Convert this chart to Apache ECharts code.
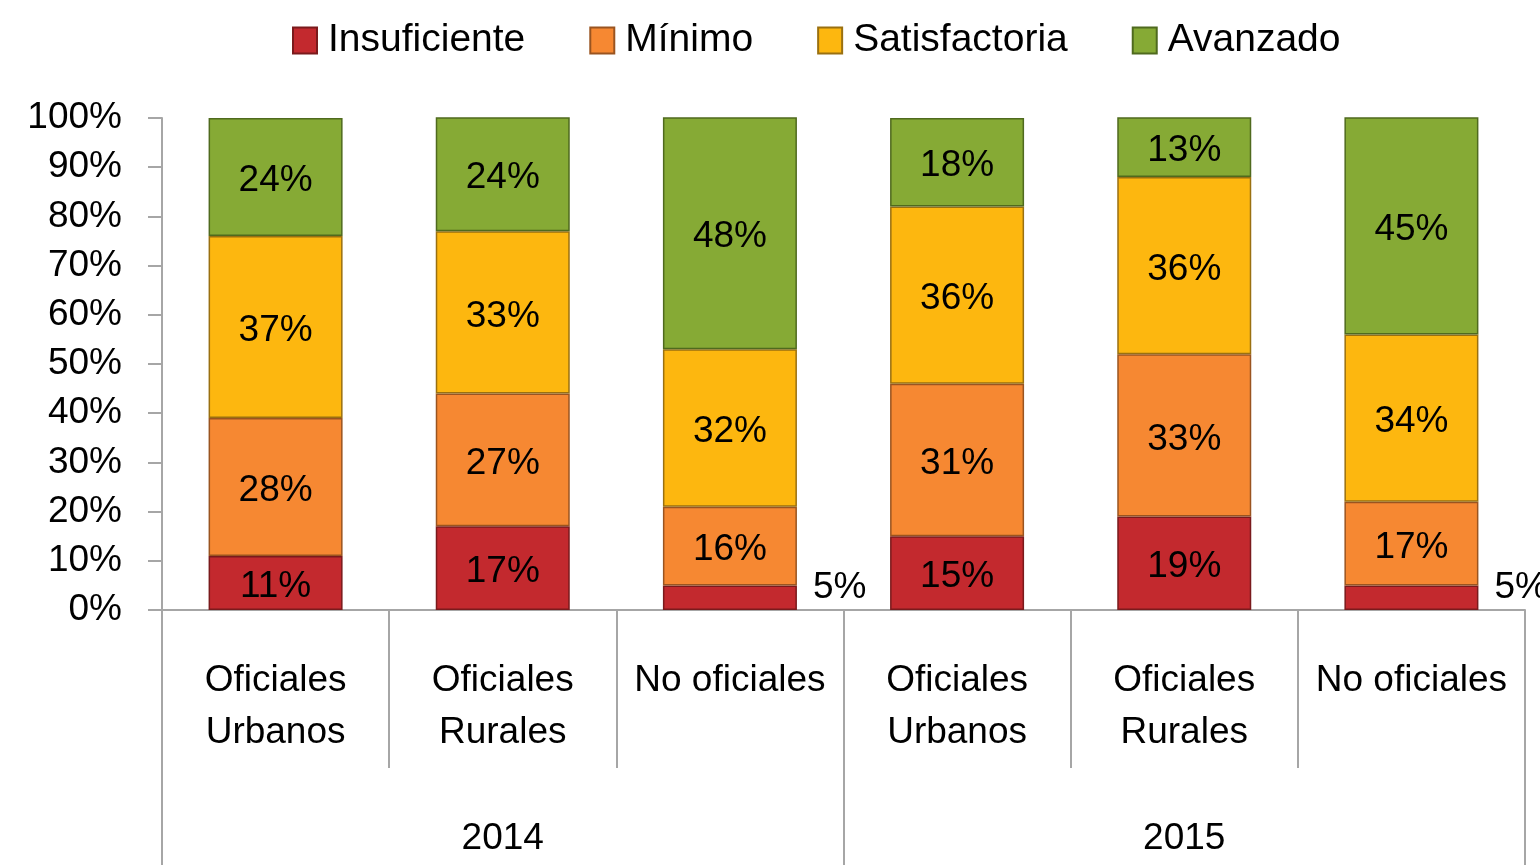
<!DOCTYPE html>
<html>
<head>
<meta charset="utf-8">
<script src="https://cdn.jsdelivr.net/npm/echarts@6/dist/echarts.min.js"></script>
<style>
html,body{margin:0;padding:0;background:#fff;}
#chart{width:1540px;height:865px;}
</style>
</head>
<body>
<div id="chart"></div>
<script>
const categories = ['Oficiales\nUrbanos', 'Oficiales\nRurales', 'No oficiales', 'Oficiales\nUrbanos', 'Oficiales\nRurales', 'No oficiales'];
const years = ['2014', '2015'];
const seriesNames = ['Insuficiente', 'Mínimo', 'Satisfactoria', 'Avanzado'];
const insuficiente = [11, 17, 5, 15, 19, 5];
const minimo = [28, 27, 16, 31, 33, 17];
const satisfactoria = [37, 33, 32, 36, 36, 34];
const avanzado = [24, 24, 48, 18, 13, 45];
const yTicks = [0, 10, 20, 30, 40, 50, 60, 70, 80, 90, 100];

const FONT = '"Liberation Sans", Arial, sans-serif';
const colors = ['#C3292E', '#F68832', '#FDB70F', '#86AA35'];
const borders = ['#7A1A1C', '#9A5420', '#9A7010', '#4F6A1E'];
const values = [insuficiente, minimo, satisfactoria, avanzado];

const chart = echarts.init(document.getElementById('chart'), null, {renderer: 'canvas'});

const series = seriesNames.map((name, i) => ({
  name: name,
  type: 'bar',
  stack: 'total',
  barWidth: 134,
  clip: true,
  itemStyle: {color: colors[i], borderColor: borders[i], borderWidth: 1.5},
  label: {
    show: true,
    position: 'inside',
    color: '#000',
    fontFamily: FONT,
    fontSize: 37,
    offset: [0, 4],
    formatter: '{c}%'
  },
  data: values[i].map(v => (v < 8 && i === 0)
    ? {value: v, label: {position: 'right', distance: 16, offset: [0, -10]}}
    : v)
}));

chart.setOption({
  animation: false,
  backgroundColor: '#fff',
  textStyle: {fontFamily: FONT},
  legend: {
    data: seriesNames,
    icon: 'rect',
    left: 287,
    top: 16,
    itemWidth: 24,
    itemHeight: 26,
    itemGap: 64,
    textStyle: {fontFamily: FONT, fontSize: 39, color: '#000', padding: [0, 0, 0, 6]}
  },
  grid: {left: 162, right: 15, top: 118, bottom: 253, containLabel: false},
  yAxis: {
    type: 'value',
    min: yTicks[0],
    max: yTicks[yTicks.length - 1],
    interval: 10,
    axisLine: {show: true, lineStyle: {color: '#A6A6A6', width: 2}},
    axisTick: {show: true, length: 14, lineStyle: {color: '#A6A6A6', width: 2}},
    splitLine: {show: false},
    axisLabel: {formatter: '{value}%', fontFamily: FONT, fontSize: 37, color: '#000', margin: 40}
  },
  xAxis: [
    {
      type: 'category',
      data: categories,
      position: 'bottom',
      axisLine: {show: true, lineStyle: {color: '#A6A6A6', width: 2}},
      axisTick: {show: true, interval: 0, length: 158, lineStyle: {color: '#A6A6A6', width: 2}},
      axisLabel: {interval: 0, fontFamily: FONT, fontSize: 37, color: '#000', lineHeight: 52, margin: 45}
    },
    {
      type: 'category',
      data: years,
      position: 'bottom',
      axisLine: {show: false},
      axisTick: {show: true, interval: 0, length: 260, lineStyle: {color: '#A6A6A6', width: 2}},
      axisLabel: {interval: 0, fontFamily: FONT, fontSize: 37, color: '#000', lineHeight: 52, margin: 203}
    }
  ],
  series: series
});
</script>
</body>
</html>
